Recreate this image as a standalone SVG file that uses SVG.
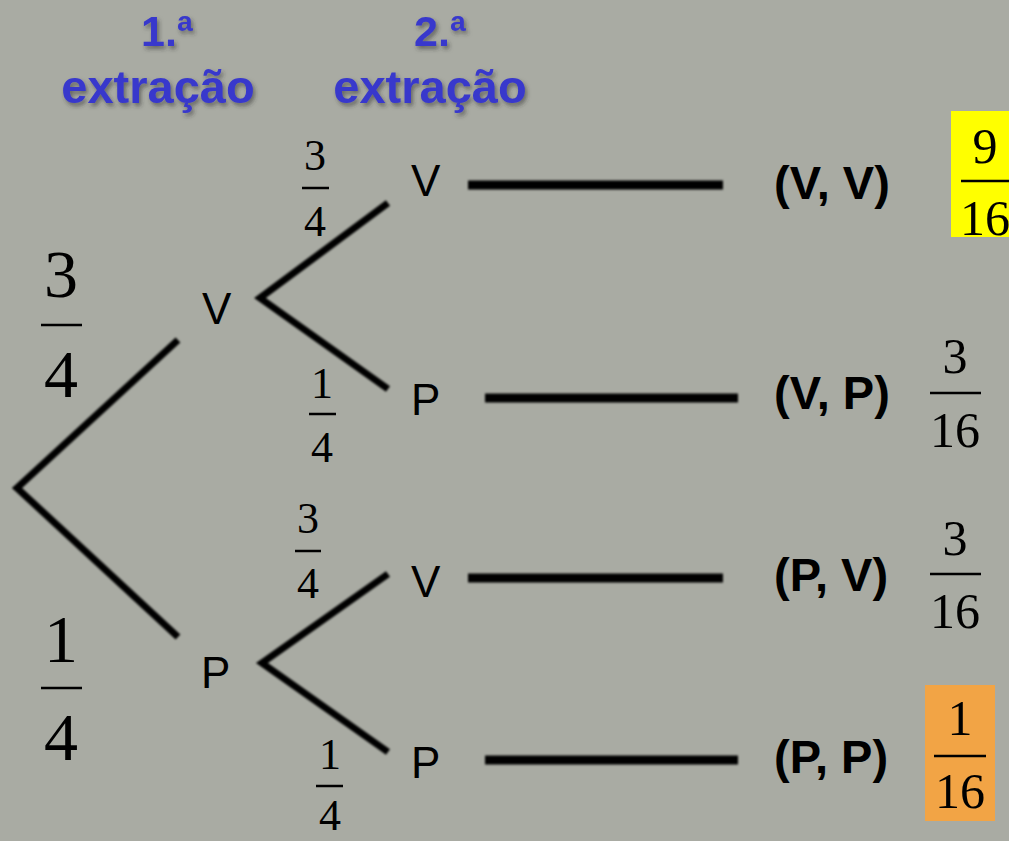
<svg xmlns="http://www.w3.org/2000/svg" width="1009" height="841" viewBox="0 0 1009 841">
  <defs>
    <filter id="shadow" x="-10%" y="-10%" width="130%" height="140%">
      <feDropShadow dx="2" dy="3" stdDeviation="2" flood-color="#303030" flood-opacity="0.55"/>
    </filter>
    <filter id="soft" x="-5%" y="-5%" width="110%" height="110%">
      <feGaussianBlur stdDeviation="0.8"/>
    </filter>
  </defs>
  <style>
    .title { font-family: "Liberation Sans", Arial, sans-serif; font-weight: bold; fill: #3838cc; text-anchor: middle; }
    .node { font-family: "Liberation Sans", Arial, sans-serif; font-size: 44px; fill: #000; }
    .pair { font-family: "Liberation Sans", Arial, sans-serif; font-weight: bold; font-size: 47px; fill: #000; }
    .frac { font-family: "Liberation Serif", "Times New Roman", serif; fill: #000; text-anchor: middle; }
    .branch { stroke: #000; stroke-width: 7; stroke-linecap: butt; fill: none; }
    .bar { stroke: #000; stroke-width: 2.5; }
    .result { stroke: #000; stroke-width: 9; }
  </style>

  <rect width="1009" height="841" fill="#a9aba3"/>

  <!-- column headings -->
  <g id="heading-1" class="title" filter="url(#shadow)">
    <text x="167" y="46" font-size="43">1.ª</text>
    <text x="158" y="103" font-size="47">extração</text>
  </g>
  <g id="heading-2" class="title" filter="url(#shadow)">
    <text x="440" y="46" font-size="43">2.ª</text>
    <text x="430" y="103" font-size="47">extração</text>
  </g>

  <!-- branches and result lines -->
  <g id="connectors" filter="url(#soft)">
    <polyline class="branch" points="178,340 17,488 178,637"/>
    <polyline class="branch" points="388,203 260,298 388,389"/>
    <polyline class="branch" points="388,574 262,663 388,752"/>
    <line class="result" x1="468" y1="185" x2="723" y2="185"/>
    <line class="result" x1="485" y1="398" x2="738" y2="398"/>
    <line class="result" x1="468" y1="578" x2="723" y2="578"/>
    <line class="result" x1="485" y1="760" x2="738" y2="760"/>
  </g>

  <!-- first extraction probabilities -->
  <g id="p1-v" class="frac" font-size="68">
    <text x="61" y="297">3</text>
    <line class="bar" x1="41" y1="325" x2="82" y2="325"/>
    <text x="61" y="397">4</text>
  </g>
  <g id="p1-p" class="frac" font-size="68">
    <text x="61" y="662">1</text>
    <line class="bar" x1="41" y1="688" x2="82" y2="688"/>
    <text x="61" y="760">4</text>
  </g>

  <!-- first extraction outcomes -->
  <g id="node-v1"><text class="node" x="202" y="324">V</text></g>
  <g id="node-p1"><text class="node" x="201" y="688">P</text></g>

  <!-- second extraction probabilities -->
  <g id="p2-vv" class="frac" font-size="44">
    <text x="315" y="170">3</text>
    <line class="bar" x1="302" y1="188" x2="329" y2="188"/>
    <text x="315" y="236">4</text>
  </g>
  <g id="p2-vp" class="frac" font-size="44">
    <text x="322" y="398">1</text>
    <line class="bar" x1="309" y1="414" x2="336" y2="414"/>
    <text x="322" y="462">4</text>
  </g>
  <g id="p2-pv" class="frac" font-size="44">
    <text x="308" y="533">3</text>
    <line class="bar" x1="295" y1="551" x2="321" y2="551"/>
    <text x="308" y="598">4</text>
  </g>
  <g id="p2-pp" class="frac" font-size="44">
    <text x="330" y="769">1</text>
    <line class="bar" x1="316" y1="786" x2="343" y2="786"/>
    <text x="330" y="830">4</text>
  </g>

  <!-- second extraction outcomes -->
  <g id="node-vv"><text class="node" x="411" y="196">V</text></g>
  <g id="node-vp"><text class="node" x="411" y="415">P</text></g>
  <g id="node-pv"><text class="node" x="411" y="597">V</text></g>
  <g id="node-pp"><text class="node" x="411" y="778">P</text></g>

  <!-- outcome pairs -->
  <g id="pair-vv"><text class="pair" x="774" y="199">(V, V)</text></g>
  <g id="pair-vp"><text class="pair" x="774" y="409">(V, P)</text></g>
  <g id="pair-pv"><text class="pair" x="774" y="591">(P, V)</text></g>
  <g id="pair-pp"><text class="pair" x="774" y="773">(P, P)</text></g>

  <!-- joint probabilities -->
  <g id="prob-vv" class="frac" font-size="50">
    <rect x="951" y="111" width="58" height="126" fill="#ffff00"/>
    <text x="985" y="163">9</text>
    <line class="bar" x1="961" y1="181" x2="1009" y2="181"/>
    <text x="985" y="235">16</text>
  </g>
  <g id="prob-vp" class="frac" font-size="50">
    <text x="955" y="373">3</text>
    <line class="bar" x1="930" y1="393" x2="981" y2="393"/>
    <text x="955" y="447">16</text>
  </g>
  <g id="prob-pv" class="frac" font-size="50">
    <text x="955" y="555">3</text>
    <line class="bar" x1="930" y1="574" x2="981" y2="574"/>
    <text x="955" y="628">16</text>
  </g>
  <g id="prob-pp" class="frac" font-size="50">
    <rect x="925" y="685" width="70" height="136" fill="#f2a445"/>
    <text x="960" y="735">1</text>
    <line class="bar" x1="934" y1="756" x2="986" y2="756"/>
    <text x="960" y="808">16</text>
  </g>
</svg>
